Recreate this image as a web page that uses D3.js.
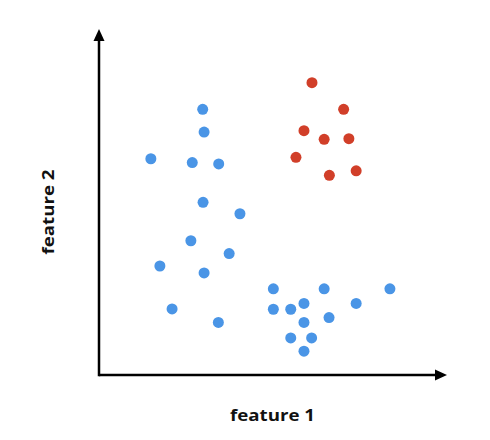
<!DOCTYPE html>
<html><head><meta charset="utf-8">
<script src="https://cdn.jsdelivr.net/npm/d3@7"></script>
<style>html,body{margin:0;padding:0;background:#fff;}</style>
</head><body>
<svg id="c" width="490" height="440"></svg>
<script>
const blueX = [29.8,30.2,14.9,26.8,34.4,29.9,40.5,26.4,37.4,17.5,30.2,21.0,34.3,50.1,64.7,83.6,50.1,55.1,58.9,73.9,66.1,58.9,55.1,61.1,58.9];
const blueY = [76.8,70.2,62.5,61.4,61.0,49.9,46.6,38.8,35.1,31.5,29.5,19.1,15.2,24.9,24.9,24.9,19.0,19.0,20.7,20.7,16.6,15.2,10.7,10.7,6.9];
const redX = [61.2,70.3,58.9,64.7,71.8,56.6,66.2,73.9];
const redY = [84.5,76.8,70.6,68.1,68.3,62.9,57.7,59.0];
const xLabel = "feature 1";
const yLabel = "feature 2";

const svg = d3.select("#c");
const x = d3.scaleLinear().domain([0,100]).range([99,447]);
const y = d3.scaleLinear().domain([0,100]).range([375,29]);

const g = svg.append("g");
g.append("line").attr("x1",x(0)).attr("x2",x(100)-10).attr("y1",y(0)).attr("y2",y(0))
  .attr("stroke","#000").attr("stroke-width",2.5);
g.append("line").attr("x1",x(0)).attr("x2",x(0)).attr("y1",y(0)+1.25).attr("y2",y(100)+10)
  .attr("stroke","#000").attr("stroke-width",2.5);
g.append("path").attr("d",`M${x(100)},${y(0)} L${x(100)-12},${y(0)-5.5} L${x(100)-12},${y(0)+5.5} Z`).attr("fill","#000");
g.append("path").attr("d",`M${x(0)},${y(100)} L${x(0)-5.5},${y(100)+12} L${x(0)+5.5},${y(100)+12} Z`).attr("fill","#000");

const blue = blueX.map((v,i)=>({x:v,y:blueY[i]}));
const red = redX.map((v,i)=>({x:v,y:redY[i]}));
g.selectAll("circle.b").data(blue).join("circle").attr("class","b")
  .attr("cx",d=>x(d.x)).attr("cy",d=>y(d.y)).attr("r",5.5).attr("fill","#4a95e6");
g.selectAll("circle.r").data(red).join("circle").attr("class","r")
  .attr("cx",d=>x(d.x)).attr("cy",d=>y(d.y)).attr("r",5.5).attr("fill","#d13f29");

svg.append("text").attr("x",272.5).attr("y",421).attr("text-anchor","middle")
  .attr("font-family","'Open Sans', sans-serif").attr("font-weight","bold").attr("font-size",16.5)
  .attr("textLength",85).attr("lengthAdjust","spacingAndGlyphs")
  .attr("fill","#111").text(xLabel);
svg.append("text").attr("transform","translate(54,212) rotate(-90)").attr("text-anchor","middle")
  .attr("font-family","'Open Sans', sans-serif").attr("font-weight","bold").attr("font-size",16.5)
  .attr("textLength",85).attr("lengthAdjust","spacingAndGlyphs")
  .attr("fill","#111").text(yLabel);
</script>
</body></html>
